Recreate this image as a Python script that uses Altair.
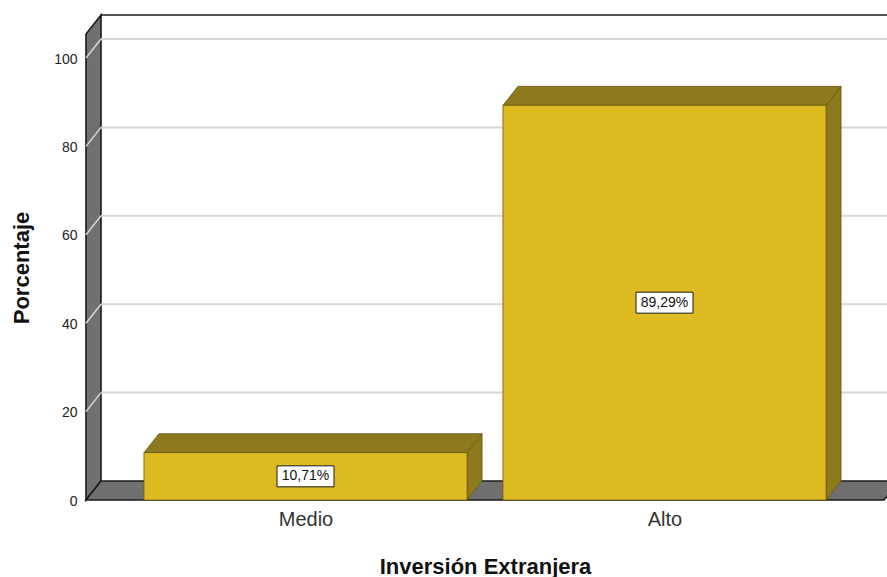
import altair as alt
import pandas as pd

# ---- data ----
categories = ["Medio", "Alto"]
percentages = [10.71, 89.29]
tick_values = [0, 20, 40, 60, 80, 100]
grid_values = [20, 40, 60, 80, 100]

# ---- layout (pixels) ----
PAD_L, PAD_T, PAD_B = 86, 15, 77
W, H = 801, 485
STEP_PX = 359.0          # distance between category centres
PX_PER_UNIT = 4.42       # pixels per percentage point
FIRST_CENTER_PX = 219.5  # first category centre from plot left
BAR_HALF = 0.45          # half bar width, in category steps
DEPTH_X_PX, DEPTH_Y_PX = 15, 19

FONT = "Liberation Sans"
FRONT = "#DFBB22"
SHADE = "#8C7A1C"
BAR_EDGE = "#6A5810"
WALL = "#707070"
GRID = "#D6D6D6"

x_lo = -FIRST_CENTER_PX / STEP_PX
x_hi = x_lo + W / STEP_PX
y_hi = H / PX_PER_UNIT
dx = DEPTH_X_PX / STEP_PX
dy = DEPTH_Y_PX / PX_PER_UNIT
x_left = x_lo
x_right = (len(categories) - 1) - x_lo
wall_top = y_hi - dy

# ---- derived tables ----
front = pd.DataFrame({
    "cat": categories,
    "x": [i - BAR_HALF for i in range(len(categories))],
    "x2": [i + BAR_HALF for i in range(len(categories))],
    "y": [0.0] * len(categories),
    "y2": percentages,
})

top_rows, side_rows = [], []
for i, (c, v) in enumerate(zip(categories, percentages)):
    x0, x1 = i - BAR_HALF, i + BAR_HALF
    top_rows += [
        {"id": c, "x": x0, "y": v, "y2": v},
        {"id": c, "x": x0 + dx, "y": v, "y2": v + dy},
        {"id": c, "x": x1, "y": v, "y2": v + dy},
        {"id": c, "x": x1 + dx, "y": v + dy, "y2": v + dy},
    ]
    side_rows += [
        {"id": c, "x": x1, "y": 0.0, "y2": v},
        {"id": c, "x": x1 + dx, "y": dy, "y2": v + dy},
    ]
tops = pd.DataFrame(top_rows)
sides = pd.DataFrame(side_rows)

wall = pd.DataFrame([
    {"id": "wall", "x": x_left, "y": 0.0, "y2": wall_top},
    {"id": "wall", "x": x_left + dx, "y": dy, "y2": wall_top + dy},
])
floor = pd.DataFrame([
    {"id": "floor", "x": x_left, "y": 0.0, "y2": 0.0},
    {"id": "floor", "x": x_left + dx, "y": 0.0, "y2": dy},
    {"id": "floor", "x": x_right, "y": 0.0, "y2": dy},
    {"id": "floor", "x": x_right + dx, "y": dy, "y2": dy},
])

grid_back = pd.DataFrame({"x": [x_left + dx] * len(grid_values),
                          "x2": [x_hi] * len(grid_values),
                          "y": [g + dy for g in grid_values]})
grid_diag = pd.DataFrame({"x": [x_left] * len(grid_values),
                          "x2": [x_left + dx] * len(grid_values),
                          "y": grid_values,
                          "y2": [g + dy for g in grid_values]})
frame_top = pd.DataFrame({"x": [x_left + dx], "x2": [x_hi], "y": [wall_top + dy]})

BOX_W = 57 / STEP_PX
BOX_H = 21 / PX_PER_UNIT
labels = pd.DataFrame({
    "x": list(range(len(categories))),
    "y": [v / 2 for v in percentages],
    "bx": [i - BOX_W / 2 for i in range(len(categories))],
    "bx2": [i + BOX_W / 2 for i in range(len(categories))],
    "by": [v / 2 - BOX_H / 2 for v in percentages],
    "by2": [v / 2 + BOX_H / 2 for v in percentages],
    "text": [f"{v:.2f}".replace(".", ",") + "%" for v in percentages],
})

# ---- scales & axes ----
xs = alt.Scale(domain=[x_lo, x_hi], nice=False, zero=False)
ys = alt.Scale(domain=[0, y_hi], nice=False, zero=False)

label_expr = "[" + ",".join(f"'{c}'" for c in categories) + "][datum.value]"
x_axis = alt.Axis(values=list(range(len(categories))), labelExpr=label_expr,
                  title="Inversión Extranjera", grid=False, domain=False, ticks=False,
                  labelFontSize=20, labelColor="#333333", labelPadding=9,
                  labelFlush=False, labelOverlap=False,
                  titleFontSize=22, titleFontWeight="bold", titleColor="#111111",
                  titleX=399, titleY=66, titleBaseline="middle", titleAlign="center")
y_axis = alt.Axis(values=tick_values, title="Porcentaje", grid=False, domain=False,
                  ticks=False, labelFontSize=14, labelColor="#222222", labelPadding=9,
                  labelOffset=1,
                  titleFontSize=22, titleFontWeight="bold", titleColor="#111111",
                  titleX=-64.5, titleY=252.5, titleBaseline="middle",
                  titleAlign="center", titleAngle=270)


def X(field="x"):
    return alt.X(f"{field}:Q", scale=xs, axis=x_axis)


def Y(field="y", stack=False):
    if stack:
        return alt.Y(f"{field}:Q", scale=ys, axis=y_axis, stack=None)
    return alt.Y(f"{field}:Q", scale=ys, axis=y_axis)


def poly(df, fill, stroke, sw):
    return alt.Chart(df).mark_area(orient="vertical", fill=fill, stroke=stroke,
                                   strokeWidth=sw, interpolate="linear",
                                   strokeJoin="miter").encode(
        x=X(), y=Y(stack=True), y2="y2:Q", detail="id:N")


wall_l = poly(wall, WALL, "#1A1A1A", 1.6)
floor_l = poly(floor, WALL, "#1A1A1A", 1.6)

diag_l = alt.Chart(grid_diag).mark_rule(color=GRID, strokeWidth=1.5).encode(
    x=X(), x2="x2:Q", y=Y(), y2="y2:Q")
back_l = alt.Chart(grid_back).mark_rule(color=GRID, strokeWidth=2).encode(
    x=X(), x2="x2:Q", y=Y())
frame_l = alt.Chart(frame_top).mark_rule(color="#1A1A1A", strokeWidth=1.6).encode(
    x=X(), x2="x2:Q", y=Y())

side_l = poly(sides, SHADE, BAR_EDGE, 0.8)
top_l = poly(tops, SHADE, BAR_EDGE, 0.8)
front_l = alt.Chart(front).mark_rect(fill=FRONT, stroke=BAR_EDGE, strokeWidth=0.8).encode(
    x=X(), x2="x2:Q", y=Y(), y2="y2:Q")

box_l = alt.Chart(labels).mark_rect(fill="white", stroke="#1A1A1A", strokeWidth=1).encode(
    x=X("bx"), x2="bx2:Q", y=Y("by"), y2="by2:Q")
text_l = alt.Chart(labels).mark_text(font=FONT, fontSize=14, color="#111111",
                                     baseline="middle", align="center").encode(
    x=X(), y=Y(), text="text:N")

chart = alt.layer(
    wall_l, floor_l, diag_l, back_l, frame_l, side_l, top_l, front_l, box_l, text_l
).properties(
    width=W, height=H,
    autosize=alt.AutoSizeParams(type="none"),
    padding={"left": PAD_L, "top": PAD_T, "right": 0, "bottom": PAD_B},
    background="white",
).configure_view(stroke=None).configure_axis(labelFont=FONT, titleFont=FONT)

chart.save("out.html", embed_options={"renderer": "svg", "actions": False})
